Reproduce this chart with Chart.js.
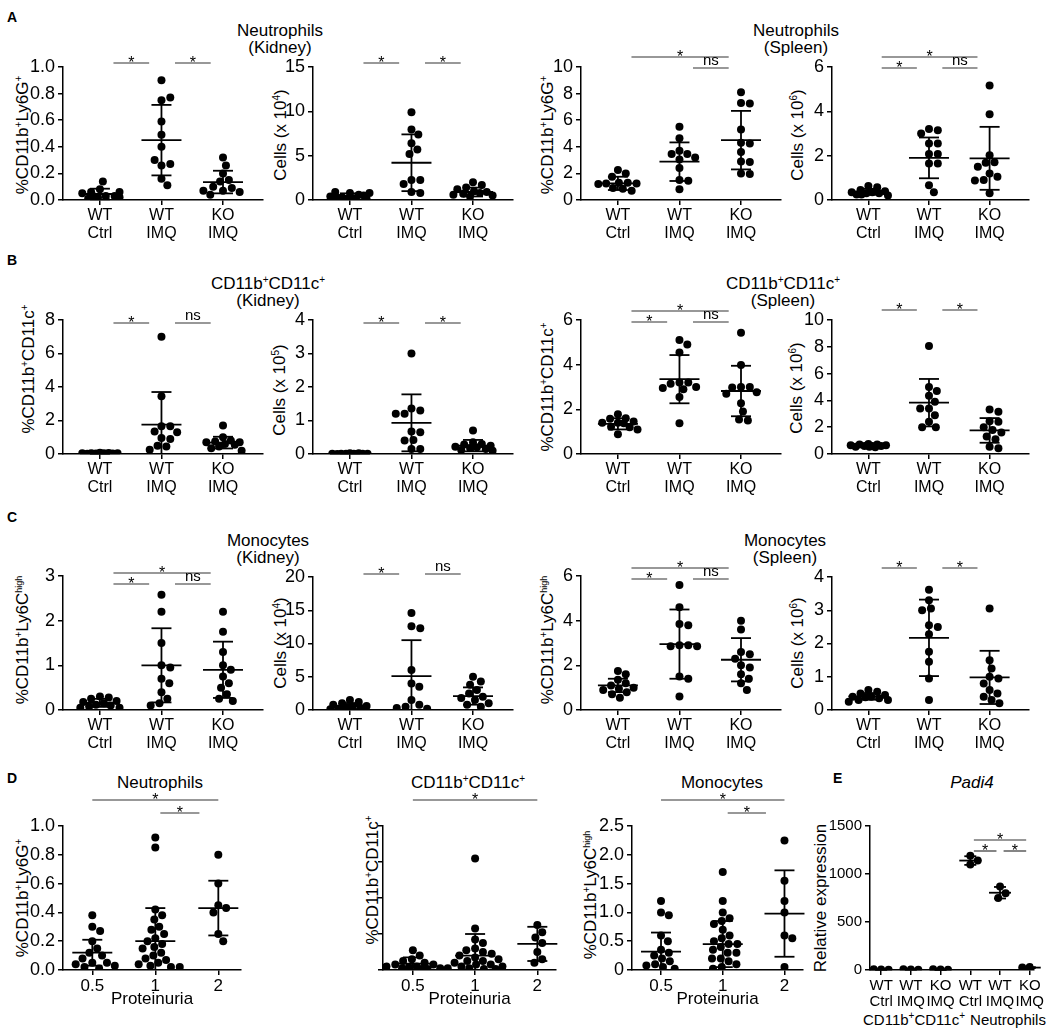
<!DOCTYPE html>
<html>
<head>
<meta charset="utf-8">
<script src="https://cdn.jsdelivr.net/npm/chart.js@4.4.0/dist/chart.umd.min.js"></script>
<style>
  body { margin: 0; width: 1048px; height: 1032px; position: relative; overflow: hidden; background: #fff;
         font-family: "Liberation Sans", Arial, sans-serif; color: #000; }
  canvas { position: absolute; }
  .lbl { position: absolute; font-weight: bold; font-size: 14px; line-height: 14px; }
  .ttl { position: absolute; font-size: 17px; line-height: 17px; text-align: center; white-space: nowrap; transform: translateX(-50%); }
  .yt  { position: absolute; font-size: 17px; line-height: 17px; white-space: nowrap; transform: translate(-50%, -50%) rotate(-90deg); }
  sup { font-size: 10px; line-height: 0; vertical-align: 6px; }
  sup.s { font-size: 9px; }
</style>
</head>
<body>
<div class="lbl" style="left:7px;top:10px">A</div>
<div class="lbl" style="left:7px;top:253px">B</div>
<div class="lbl" style="left:7px;top:510px">C</div>
<div class="lbl" style="left:7px;top:771px">D</div>
<div class="lbl" style="left:833px;top:771px">E</div>

<div class="ttl" style="left:280px;top:22px">Neutrophils<br>(Kidney)</div>
<div class="ttl" style="left:796px;top:22px">Neutrophils<br>(Spleen)</div>
<div class="ttl" style="left:268px;top:275px">CD11b<sup>+</sup>CD11c<sup>+</sup><br>(Kidney)</div>
<div class="ttl" style="left:783px;top:275px">CD11b<sup>+</sup>CD11c<sup>+</sup><br>(Spleen)</div>
<div class="ttl" style="left:268px;top:532px">Monocytes<br>(Kidney)</div>
<div class="ttl" style="left:785px;top:532px">Monocytes<br>(Spleen)</div>
<div class="ttl" style="left:160px;top:774px">Neutrophils</div>
<div class="ttl" style="left:468px;top:774px">CD11b<sup>+</sup>CD11c<sup>+</sup></div>
<div class="ttl" style="left:722px;top:774px">Monocytes</div>
<div class="ttl" style="left:972px;top:774px;font-style:italic">Padi4</div>

<div class="yt" style="left:22px;top:135px">%CD11b<sup>+</sup>Ly6G<sup>+</sup></div>
<div class="yt" style="left:280px;top:135px">Cells (x 10<sup>4</sup>)</div>
<div class="yt" style="left:547px;top:135px">%CD11b<sup>+</sup>Ly6G<sup>+</sup></div>
<div class="yt" style="left:797px;top:135px">Cells (x 10<sup>6</sup>)</div>
<div class="yt" style="left:28px;top:369px">%CD11b<sup>+</sup>CD11c<sup>+</sup></div>
<div class="yt" style="left:279px;top:390px">Cells (x 10<sup>5</sup>)</div>
<div class="yt" style="left:547px;top:387px">%CD11b<sup>+</sup>CD11c<sup>+</sup></div>
<div class="yt" style="left:796px;top:388px">Cells (x 10<sup>6</sup>)</div>
<div class="yt" style="left:22px;top:640px">%CD11b<sup>+</sup>Ly6C<sup class="s">high</sup></div>
<div class="yt" style="left:280px;top:643px">Cells (x 10<sup>4</sup>)</div>
<div class="yt" style="left:547px;top:640px">%CD11b<sup>+</sup>Ly6C<sup class="s">high</sup></div>
<div class="yt" style="left:797px;top:643px">Cells (x 10<sup>6</sup>)</div>
<div class="yt" style="left:22px;top:898px">%CD11b<sup>+</sup>Ly6G<sup>+</sup></div>
<div class="yt" style="left:372px;top:880px">%CD11b<sup>+</sup>CD11c<sup>+</sup></div>
<div class="yt" style="left:590px;top:895px">%CD11b<sup>+</sup>Ly6C<sup class="s">high</sup></div>
<div class="yt" style="left:820px;top:898px">Relative expression</div>

<div class="ttl" style="left:914px;top:1011px;font-size:15px">CD11b<sup>+</sup>CD11c<sup>+</sup></div>
<div class="ttl" style="left:1008px;top:1011px;font-size:15px">Neutrophils</div>

<script>
// ---- data ----
const groupLabels = [["WT", "Ctrl"], ["WT", "IMQ"], ["KO", "IMQ"]];
const proteinuriaLabels = ["0.5", "1", "2"];
const padi4Labels = [["WT", "Ctrl"], ["WT", "IMQ"], ["KO", "IMQ"], ["WT", "Ctrl"], ["WT", "IMQ"], ["KO", "IMQ"]];

// A — neutrophils
const neuKidneyPct = [
  [0.08, 0.03, 0.06, 0.14, 0.03, 0.05, 0.02, 0.06, 0.01, 0.03, 0.02],
  [0.90, 0.75, 0.77, 0.59, 0.49, 0.40, 0.26, 0.27, 0.30, 0.16, 0.11],
  [0.32, 0.26, 0.20, 0.15, 0.14, 0.10, 0.07, 0.09, 0.06, 0.04, 0.07]
];
const neuKidneyPctMean = [0.045, 0.45, 0.135];
const neuKidneyPctSd   = [0.04, 0.265, 0.085];

const neuKidneyCells = [
  [0.8, 0.6, 0.3, 0.1, 0.9, 0.8, 0.4, 0.2, 0.5, 0.3, 0.1],
  [9.9, 7.95, 7.4, 6.4, 5.7, 5.2, 2.25, 2.25, 1.8, 0.9, 0.8],
  [2.0, 1.7, 1.4, 1.2, 1.0, 0.9, 0.8, 0.7, 0.6, 0.5, 0.4]
];
const neuKidneyCellsMean = [0.45, 4.2, 0.9];
const neuKidneyCellsSd   = [0.3, 3.2, 0.5];

const neuSpleenPct = [
  [2.25, 2.0, 1.75, 1.3, 1.3, 1.25, 1.25, 1.2, 0.9, 0.85, 0.7],
  [5.5, 4.65, 3.7, 3.45, 3.45, 3.2, 3.05, 2.4, 1.5, 1.45, 0.8],
  [8.1, 7.3, 7.25, 5.3, 4.3, 4.25, 3.6, 2.9, 2.85, 2.0, 1.95]
];
const neuSpleenPctMean = [1.25, 2.88, 4.5];
const neuSpleenPctSd   = [0.5, 1.45, 2.2];

const neuSpleenCells = [
  [0.63, 0.57, 0.45, 0.4, 0.35, 0.35, 0.3, 0.3, 0.25, 0.25, 0.2],
  [3.2, 3.15, 3.0, 2.55, 2.55, 2.07, 2.07, 1.65, 1.65, 0.67, 0.35],
  [5.17, 3.87, 2.02, 1.7, 1.68, 1.5, 1.2, 1.05, 0.9, 0.88, 0.3]
];
const neuSpleenCellsMean = [0.37, 1.9, 1.88];
const neuSpleenCellsSd   = [0.13, 0.92, 1.42];

// B — CD11b+CD11c+
const dcKidneyPct = [
  [0.08, 0.06, 0.05, 0.05, 0.04, 0.04, 0.03, 0.03, 0.02, 0.02, 0.01],
  [7.0, 3.45, 1.65, 1.65, 1.35, 1.3, 0.95, 0.9, 0.5, 0.45, 0.25],
  [1.7, 1.0, 0.8, 0.75, 0.7, 0.7, 0.6, 0.55, 0.45, 0.35, 0.2]
];
const dcKidneyPctMean = [0.04, 1.75, 0.68];
const dcKidneyPctSd   = [0.02, 1.95, 0.35];

const dcKidneyCells = [
  [0.02, 0.02, 0.01, 0.01, 0.01, 0.01, 0.01, 0.01, 0.0, 0.0, 0.0],
  [3.0, 1.36, 1.3, 1.2, 1.2, 0.67, 0.65, 0.42, 0.4, 0.15, 0.15],
  [0.7, 0.35, 0.3, 0.28, 0.25, 0.22, 0.2, 0.18, 0.15, 0.12, 0.1]
];
const dcKidneyCellsMean = [0.01, 0.93, 0.25];
const dcKidneyCellsSd   = [0.01, 0.85, 0.17];

const dcSpleenPct = [
  [1.78, 1.6, 1.58, 1.45, 1.4, 1.4, 1.38, 1.22, 1.2, 1.1, 0.88],
  [5.1, 4.9, 4.55, 3.2, 3.2, 3.15, 3.0, 2.95, 2.9, 2.55, 1.38],
  [5.43, 3.98, 3.0, 3.0, 2.98, 2.76, 2.7, 2.27, 1.9, 1.55, 1.5]
];
const dcSpleenPctMean = [1.35, 3.35, 2.82];
const dcSpleenPctSd   = [0.25, 1.08, 1.13];

const dcSpleenCells = [
  [0.75, 0.7, 0.7, 0.65, 0.65, 0.6, 0.6, 0.6, 0.55, 0.55, 0.5],
  [8.06, 5.0, 4.7, 4.35, 3.9, 3.4, 3.4, 2.9, 2.4, 2.0, 2.0],
  [3.33, 3.15, 2.45, 2.4, 2.0, 1.8, 1.6, 1.3, 1.1, 0.55, 0.42]
];
const dcSpleenCellsMean = [0.63, 3.83, 1.76];
const dcSpleenCellsSd   = [0.08, 1.77, 0.92];

// C — monocytes
const monoKidneyPct = [
  [0.3, 0.28, 0.25, 0.2, 0.18, 0.15, 0.12, 0.1, 0.08, 0.05, 0.05],
  [2.58, 2.2, 1.5, 1.0, 0.95, 0.7, 0.6, 0.4, 0.25, 0.15, 0.1],
  [2.2, 1.75, 1.3, 1.0, 0.9, 0.75, 0.6, 0.5, 0.35, 0.25, 0.2]
];
const monoKidneyPctMean = [0.16, 1.0, 0.9];
const monoKidneyPctSd   = [0.09, 0.83, 0.63];

const monoKidneyCells = [
  [1.5, 1.2, 1.0, 0.8, 0.6, 0.5, 0.4, 0.3, 0.2, 0.1, 0.1],
  [14.6, 12.6, 12.3, 6.0, 4.0, 3.5, 1.5, 0.8, 0.5, 0.3, 0.2],
  [5.0, 4.3, 3.8, 3.0, 2.5, 2.0, 1.8, 1.5, 1.0, 0.8, 0.5]
];
const monoKidneyCellsMean = [0.6, 5.1, 2.1];
const monoKidneyCellsSd   = [0.45, 5.4, 1.3];

const monoSpleenPct = [
  [1.75, 1.6, 1.35, 1.2, 1.1, 1.0, 0.95, 0.9, 0.8, 0.7, 0.55],
  [5.6, 4.6, 3.85, 3.8, 2.9, 2.9, 2.85, 2.85, 1.5, 1.4, 0.6],
  [4.0, 3.6, 2.6, 2.5, 2.3, 2.0, 1.9, 1.6, 1.4, 1.2, 0.9]
];
const monoSpleenPctMean = [1.1, 2.95, 2.25];
const monoSpleenPctSd   = [0.3, 1.55, 0.97];

const monoSpleenCells = [
  [0.6, 0.55, 0.5, 0.45, 0.4, 0.4, 0.38, 0.35, 0.3, 0.3, 0.25],
  [3.62, 3.3, 3.05, 3.0, 2.55, 2.5, 2.28, 1.75, 1.45, 0.95, 0.3],
  [3.05, 1.5, 1.25, 1.0, 0.95, 0.8, 0.6, 0.5, 0.4, 0.3, 0.2]
];
const monoSpleenCellsMean = [0.41, 2.17, 0.98];
const monoSpleenCellsSd   = [0.1, 1.15, 0.8];

// D — by proteinuria score
const protNeu = [
  [0.38, 0.3, 0.27, 0.2, 0.15, 0.12, 0.1, 0.08, 0.05, 0.05, 0.04, 0.03, 0.02, 0.01],
  [0.92, 0.85, 0.42, 0.38, 0.35, 0.3, 0.28, 0.25, 0.22, 0.2, 0.18, 0.16, 0.15, 0.12, 0.1, 0.08, 0.07, 0.05, 0.04, 0.03, 0.02, 0.02],
  [0.8, 0.6, 0.45, 0.43, 0.4, 0.25, 0.2]
];
const protNeuMean = [0.12, 0.2, 0.43];
const protNeuSd   = [0.09, 0.23, 0.19];

const protDc = [
  [1.1, 0.8, 0.6, 0.5, 0.4, 0.3, 0.3, 0.2, 0.2, 0.15, 0.1, 0.1, 0.05, 0.05],
  [6.2, 2.3, 1.7, 1.5, 1.2, 1.1, 1.0, 0.9, 0.8, 0.7, 0.6, 0.5, 0.5, 0.4, 0.3, 0.3, 0.2, 0.2, 0.1, 0.1, 0.05, 0.05],
  [2.5, 2.1, 1.8, 1.5, 1.0, 0.6, 0.4]
];
const protDcMean = [0.35, 0.8, 1.45];
const protDcSd   = [0.35, 1.2, 0.95];

const protMono = [
  [1.2, 1.0, 0.95, 0.6, 0.5, 0.35, 0.3, 0.25, 0.2, 0.15, 0.1, 0.08, 0.05, 0.02],
  [1.7, 1.2, 1.0, 0.9, 0.85, 0.8, 0.7, 0.6, 0.55, 0.5, 0.45, 0.45, 0.4, 0.35, 0.3, 0.3, 0.2, 0.2, 0.15, 0.1, 0.05, 0.02],
  [2.25, 1.55, 1.2, 1.0, 0.6, 0.55, 0.05]
];
const protMonoMean = [0.32, 0.45, 0.98];
const protMonoSd   = [0.33, 0.4, 0.75];

// E — Padi4 relative expression
const padi4 = [[5, 2, 8], [6, 3, 9], [4, 2, 7], [1190, 1140, 1100], [870, 800, 750], [30, 20, 25]];
const padi4Mean = [5, 6, 4, 1140, 805, 25];
const padi4Sd   = [3, 3, 3, 45, 60, 5];

// ---- drawing ----
Chart.defaults.font.family = "'Liberation Sans', Arial, sans-serif";
Chart.defaults.color = "#000";

const PAD_TOP = 34;  // room above the plot for significance bars

// simple beeswarm: nearest free horizontal offset, capped at maxOff px
function swarmOffsets(vals, pxX, pxY, r, maxOff) {
  const placed = [];
  return vals.map(v => {
    const y = v * pxY;
    let best = 0, bestD = -1;
    for (let k = 0; k <= 2 * maxOff; k++) {
      const off = (k % 2 ? 1 : -1) * Math.ceil(k / 2);
      let dmin = Infinity;
      for (const p of placed) dmin = Math.min(dmin, Math.hypot(p.x - off, p.y - y));
      if (dmin >= 2 * r + 0.5) { best = off; bestD = Infinity; break; }
      if (dmin > bestD + 0.01) { bestD = dmin; best = off; }
    }
    placed.push({ x: best, y });
    return best / pxX;
  });
}

function line(ctx, x1, y1, x2, y2) {
  ctx.beginPath(); ctx.moveTo(x1, y1); ctx.lineTo(x2, y2); ctx.stroke();
}

// tick label formats
const fixed1 = v => v.toFixed(1);
const zeroPlain = v => (v === 0 ? "0" : v.toFixed(1));

function panel(p) {
  const tickW = p.tickW || 46;
  const bottomH = p.bottomH || 50;
  const xMin = p.xMin ?? -0.6, xMax = p.xMax ?? 2.65;
  const W = tickW + p.w, H = PAD_TOP + p.h + bottomH;
  const cv = document.createElement("canvas");
  cv.width = W; cv.height = H;
  cv.style.left = (p.ax - tickW) + "px";
  cv.style.top = (p.top - PAD_TOP) + "px";
  cv.style.width = W + "px"; cv.style.height = H + "px";
  document.body.appendChild(cv);

  const pxX = p.w / (xMax - xMin), pxY = p.h / p.yMax;
  const datasets = p.values.map((vals, i) => {
    const offs = swarmOffsets(vals, pxX, pxY, 4, p.spread || 20);
    return {
      data: vals.map((v, j) => ({ x: i + offs[j], y: v })),
      pointRadius: 4, pointHoverRadius: 4, backgroundColor: "#000", borderWidth: 0
    };
  });

  const axisGrid = { display: true, drawOnChartArea: false, drawTicks: true, tickLength: 5, color: "#000", lineWidth: 1.5 };
  const axisBorder = { display: true, color: "#000", width: 1.5 };

  const meanSd = {
    id: "meanSd",
    afterDatasetsDraw(chart) {
      const { ctx, scales: { x, y } } = chart;
      ctx.save();
      ctx.strokeStyle = "#000"; ctx.lineWidth = 1.8;
      p.mean.forEach((m, i) => {
        const cx = x.getPixelForValue(i);
        const lo = m - p.sd[i];
        const ym = y.getPixelForValue(m), yt = y.getPixelForValue(m + p.sd[i]), yb = y.getPixelForValue(Math.max(lo, 0));
        const hw = p.meanHalf || 20, cw = p.capHalf || 10;
        line(ctx, cx - hw, ym, cx + hw, ym);
        line(ctx, cx, yt, cx, yb);
        line(ctx, cx - cw, yt, cx + cw, yt);
        if (lo > 0) line(ctx, cx - cw, yb, cx + cw, yb);
      });
      ctx.restore();
    }
  };

  const sigBars = {
    id: "sigBars",
    afterDraw(chart) {
      const { ctx, scales: { x } } = chart;
      const top = chart.chartArea.top;
      ctx.save();
      ctx.strokeStyle = "#333"; ctx.fillStyle = "#000"; ctx.lineWidth = 1.2;
      ctx.textAlign = "center"; ctx.textBaseline = "alphabetic";
      (p.sig || []).forEach(([a, b, txt, dy]) => {
        const x1 = x.getPixelForValue(a + (p.sigIn ?? 0.22)), x2 = x.getPixelForValue(b - (p.sigIn ?? 0.2));
        const yy = top + dy;
        line(ctx, x1, yy, x2, yy);
        if (txt === "*") { ctx.font = "16px 'Liberation Sans', Arial"; ctx.fillText("*", (x1 + x2) / 2, yy + 5); }
        else { ctx.font = "15px 'Liberation Sans', Arial"; ctx.fillText(txt, (x1 + x2) / 2, yy - 3); }
      });
      ctx.restore();
    }
  };

  new Chart(cv, {
    type: "scatter",
    data: { datasets },
    options: {
      responsive: false, animation: false, events: [],
      layout: { padding: { top: PAD_TOP, right: 0, left: 0, bottom: 0 } },
      plugins: { legend: { display: false }, tooltip: { enabled: false } },
      scales: {
        x: {
          type: "linear", min: xMin, max: xMax,
          afterBuildTicks: s => { s.ticks = p.labels.map((_, i) => ({ value: i })); },
          afterFit: s => { s.height = bottomH; },
          grid: axisGrid, border: axisBorder,
          ticks: { callback: (v, i) => p.labels[i], font: { size: p.xFont || 16, lineHeight: 1.12 }, padding: 2, maxRotation: 0, autoSkip: false },
          title: { display: !!p.xTitle, text: p.xTitle || "", font: { size: 17 }, padding: { top: 0, bottom: 2 } }
        },
        y: {
          type: "linear", min: 0, max: p.yMax,
          afterBuildTicks: s => {
            const t = [];
            for (let k = 0; k * p.step <= p.yMax + 1e-9; k++) t.push({ value: +(k * p.step).toFixed(4) });
            s.ticks = t;
          },
          afterFit: s => { s.width = tickW; },
          grid: axisGrid, border: axisBorder,
          ticks: { display: !p.noYLabels, callback: v => (p.fmt ? p.fmt(v) : String(v)), font: { size: p.yFont || 18 }, padding: 3 }
        }
      }
    },
    plugins: [meanSd, sigBars]
  });
}

// row A
panel({ ax: 63,  top: 67, w: 204, h: 133, yMax: 1,  step: 0.2, fmt: fixed1, labels: groupLabels,
  values: neuKidneyPct, mean: neuKidneyPctMean, sd: neuKidneyPctSd, sig: [[0, 1, "*", -4], [1, 2, "*", -4]] });
panel({ ax: 313, top: 67, w: 204, h: 133, yMax: 15, step: 5, labels: groupLabels,
  values: neuKidneyCells, mean: neuKidneyCellsMean, sd: neuKidneyCellsSd, sig: [[0, 1, "*", -4], [1, 2, "*", -4]] });
panel({ ax: 581, top: 67, w: 204, h: 133, yMax: 10, step: 2, labels: groupLabels,
  values: neuSpleenPct, mean: neuSpleenPctMean, sd: neuSpleenPctSd, sig: [[0, 2, "*", -10], [1, 2, "ns", 1]] });
panel({ ax: 832, top: 67, w: 201, h: 133, yMax: 6,  step: 2, labels: groupLabels,
  values: neuSpleenCells, mean: neuSpleenCellsMean, sd: neuSpleenCellsSd, sig: [[0, 2, "*", -10], [0, 1, "*", 1], [1, 2, "ns", 1]] });

// row B
panel({ ax: 63,  top: 320, w: 204, h: 134, yMax: 8,  step: 2, labels: groupLabels,
  values: dcKidneyPct, mean: dcKidneyPctMean, sd: dcKidneyPctSd, sig: [[0, 1, "*", 3], [1, 2, "ns", 3]] });
panel({ ax: 313, top: 320, w: 204, h: 134, yMax: 4,  step: 1, labels: groupLabels,
  values: dcKidneyCells, mean: dcKidneyCellsMean, sd: dcKidneyCellsSd, sig: [[0, 1, "*", 3], [1, 2, "*", 3]] });
panel({ ax: 581, top: 320, w: 204, h: 134, yMax: 6,  step: 2, labels: groupLabels,
  values: dcSpleenPct, mean: dcSpleenPctMean, sd: dcSpleenPctSd, sig: [[0, 2, "*", -9], [0, 1, "*", 2], [1, 2, "ns", 2]] });
panel({ ax: 832, top: 320, w: 201, h: 134, yMax: 10, step: 2, labels: groupLabels,
  values: dcSpleenCells, mean: dcSpleenCellsMean, sd: dcSpleenCellsSd, sig: [[0, 1, "*", -10], [1, 2, "*", -10]] });

// row C
panel({ ax: 63,  top: 576, w: 204, h: 134, yMax: 3,  step: 1, labels: groupLabels,
  values: monoKidneyPct, mean: monoKidneyPctMean, sd: monoKidneyPctSd, sig: [[0, 2, "*", -3], [0, 1, "*", 8], [1, 2, "ns", 8]] });
panel({ ax: 313, top: 577, w: 204, h: 133, yMax: 20, step: 5, labels: groupLabels,
  values: monoKidneyCells, mean: monoKidneyCellsMean, sd: monoKidneyCellsSd, sig: [[0, 1, "*", -3], [1, 2, "ns", -3]] });
panel({ ax: 581, top: 576, w: 204, h: 134, yMax: 6,  step: 2, labels: groupLabels,
  values: monoSpleenPct, mean: monoSpleenPctMean, sd: monoSpleenPctSd, sig: [[0, 2, "*", -8], [0, 1, "*", 3], [1, 2, "ns", 3]] });
panel({ ax: 832, top: 577, w: 201, h: 133, yMax: 4,  step: 1, labels: groupLabels,
  values: monoSpleenCells, mean: monoSpleenCellsMean, sd: monoSpleenCellsSd, sig: [[0, 1, "*", -9], [1, 2, "*", -9]] });

// row D
panel({ ax: 63,  top: 826, w: 182, h: 144, yMax: 1,   step: 0.2, fmt: fixed1, xMin: -0.465, xMax: 2.36, bottomH: 42,
  labels: proteinuriaLabels, xFont: 17, xTitle: "Proteinuria", spread: 28, sigIn: 0,
  values: protNeu, mean: protNeuMean, sd: protNeuSd, sig: [[0, 2, "*", -26], [1.08, 1.7, "*", -13]] });
panel({ ax: 383, top: 826, w: 177, h: 144, yMax: 8,   step: 2, noYLabels: true, xMin: -0.48, xMax: 2.3, bottomH: 42,
  labels: proteinuriaLabels, xFont: 17, xTitle: "Proteinuria", spread: 28, sigIn: 0,
  values: protDc, mean: protDcMean, sd: protDcSd, sig: [[0, 2, "*", -26]] });
panel({ ax: 632, top: 826, w: 175, h: 144, yMax: 2.5, step: 0.5, fmt: zeroPlain, xMin: -0.47, xMax: 2.3, bottomH: 42,
  labels: proteinuriaLabels, xFont: 17, xTitle: "Proteinuria", spread: 28, sigIn: 0,
  values: protMono, mean: protMonoMean, sd: protMonoSd, sig: [[0, 2, "*", -26], [1.08, 1.7, "*", -13]] });

// E
panel({ ax: 870, top: 826, w: 176, h: 144, yMax: 1500, step: 500, xMin: -0.375, xMax: 5.125, bottomH: 42, tickW: 48, yFont: 15,
  labels: padi4Labels, xFont: 15, spread: 8, sigIn: 0.12, meanHalf: 11, capHalf: 6,
  values: padi4, mean: padi4Mean, sd: padi4Sd, sig: [[3, 5, "*", 14], [3, 4, "*", 25], [4, 5, "*", 25]] });
</script>
</body>
</html>
